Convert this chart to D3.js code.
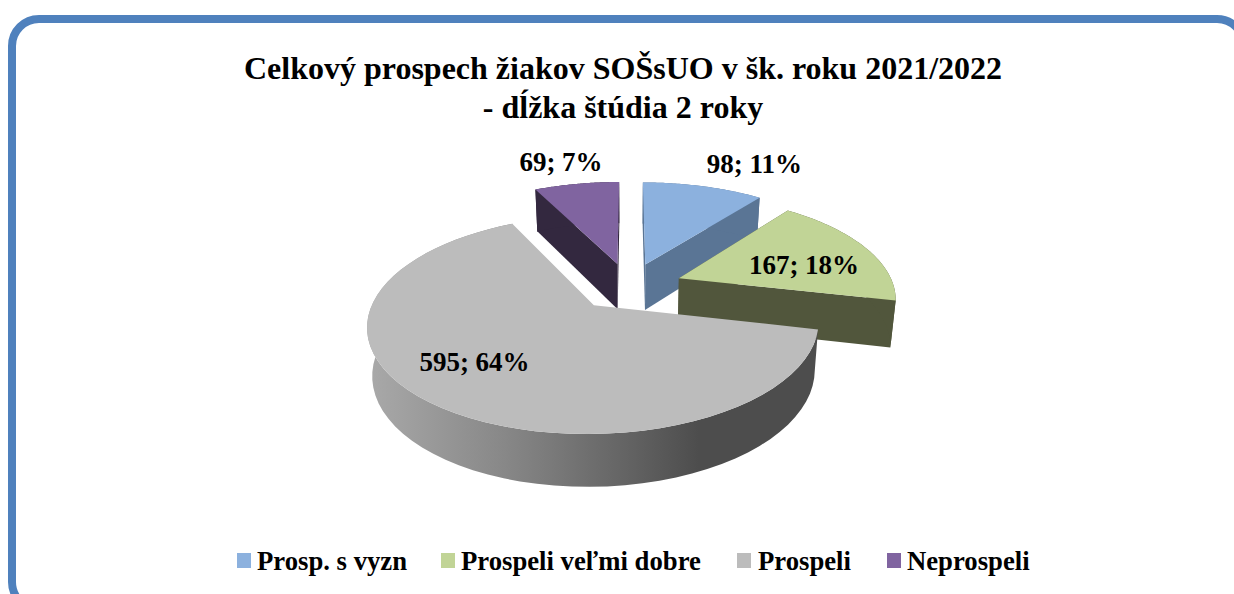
<!DOCTYPE html>
<html><head><meta charset="utf-8">
<style>html,body{margin:0;padding:0;background:#fff;overflow:hidden}svg{display:block}
text{font-family:"Liberation Serif","Times New Roman",serif;font-weight:bold;fill:#000}</style>
<script src="https://cdn.jsdelivr.net/npm/d3@7"></script></head><body>
<svg id="c" width="1234" height="594"></svg>
<script>
const categories = ["Prosp. s vyzn", "Prospeli veľmi dobre", "Prospeli", "Neprospeli"];
const values = [98, 167, 595, 69];
const percents = ["11%", "18%", "64%", "7%"];
const topColors = ["#8cb1de", "#c1d496", "#bcbcbc", "#8064a0"];
const wallColors = ["#5a7595", "#51563c", "url(#greyWall)", "#33283f"];
const titleLines = ["Celkový prospech žiakov SOŠsUO v šk. roku 2021/2022", "- dĺžka štúdia 2 roky"];
const labelAnchors = [[754.5,173],[804,274],[474.5,370.5],[561,170.5]];
const legendX = [237,441,737,887];
const sliceDx = [0,1.5,-2,0];
const sliceRadiusU = [1.03,0.99,0.99,1.03];
const sliceRadiusW = [1.06,1.02,1.007,1.06];

const svg = d3.select("#c");
const defs = svg.append("defs");
const g = defs.append("linearGradient").attr("id","greyWall").attr("gradientUnits","userSpaceOnUse")
  .attr("x1",372).attr("x2",820).attr("y1",0).attr("y2",0);
[[0,"#a8a8a8"],[0.3,"#878787"],[0.55,"#666666"],[0.73,"#4d4d4d"],[1,"#4d4d4d"]].forEach(s=>g.append("stop").attr("offset",s[0]).attr("stop-color",s[1]));

svg.append("rect").attr("x",12).attr("y",19).attr("width",1232).attr("height",590).attr("rx",27)
  .attr("fill","#fff").attr("stroke","#4f81bd").attr("stroke-width",8);

svg.selectAll("text.t").data(titleLines).join("text").attr("class","t")
  .attr("x",623).attr("y",(d,i)=>[79,118][i]).attr("text-anchor","middle").attr("font-size",32).text(d=>d);

// projection of pie plane (u right, w away) into the picture
const cx=629, cy=286, R=217, S=98.3, K=0.172, E=0.24, DEPTH=46.5, SHR=0.98, DK=0.1;
function proj(u,w,low,dx){
  const q=1+K*w;
  const x=cx+dx+R*u/q*(low?SHR:1);
  const y=cy-S*w/q+(low?DEPTH/(1+DK*w):0);
  return [x,y];
}
const arcs = d3.pie().sort(null).value(d=>d)(values);
const path = d3.line();
function outline(a,i){
  const mid=(a.startAngle+a.endAngle)/2, ru=sliceRadiusU[i], rw=sliceRadiusW[i], dx=sliceDx[i];
  const ax=E*Math.sin(mid), aw=E*Math.cos(mid);
  const ang=d3.range(0,61).map(k=>a.startAngle+(a.endAngle-a.startAngle)*k/60);
  return {ax,aw,ang,dx,pt:(t,low)=>proj(ax+ru*Math.sin(t),aw+rw*Math.cos(t),low,dx)};
}
const order=[3,0,1,2];
order.forEach(i=>{
  const a=arcs[i], o=outline(a,i);
  const apexT=proj(o.ax,o.aw,false,o.dx), apexB=proj(o.ax,o.aw,true,o.dx);
  if(i!==2){
    [a.startAngle,a.endAngle].forEach(t=>{
      svg.append("path").attr("d",path([apexT,o.pt(t,false),o.pt(t,true),apexB])+"Z").attr("fill",wallColors[i]);
    });
  }
  const top=o.ang.map(t=>o.pt(t,false)), bot=o.ang.map(t=>o.pt(t,true)).reverse();
  svg.append("path").attr("d",path(top.concat(bot))+"Z").attr("fill",wallColors[i]);
  svg.append("path").attr("d",path([apexT].concat(top))+"Z").attr("fill",topColors[i]);
});

svg.selectAll("text.l").data(values).join("text").attr("class","l")
  .attr("x",(d,i)=>labelAnchors[i][0]).attr("y",(d,i)=>labelAnchors[i][1]).attr("text-anchor","middle")
  .attr("font-size",27).text((d,i)=>d+"; "+percents[i]);

const leg=svg.selectAll("g.leg").data(categories).join("g").attr("class","leg").attr("transform",(d,i)=>`translate(${legendX[i]},0)`);
leg.append("rect").attr("x",0).attr("y",553).attr("width",14).attr("height",15).attr("fill",(d,i)=>topColors[i]);
leg.append("text").attr("x",(d,i)=>i===2?21:20).attr("y",570).attr("font-size",26.7).text(d=>d);
</script></body></html>
